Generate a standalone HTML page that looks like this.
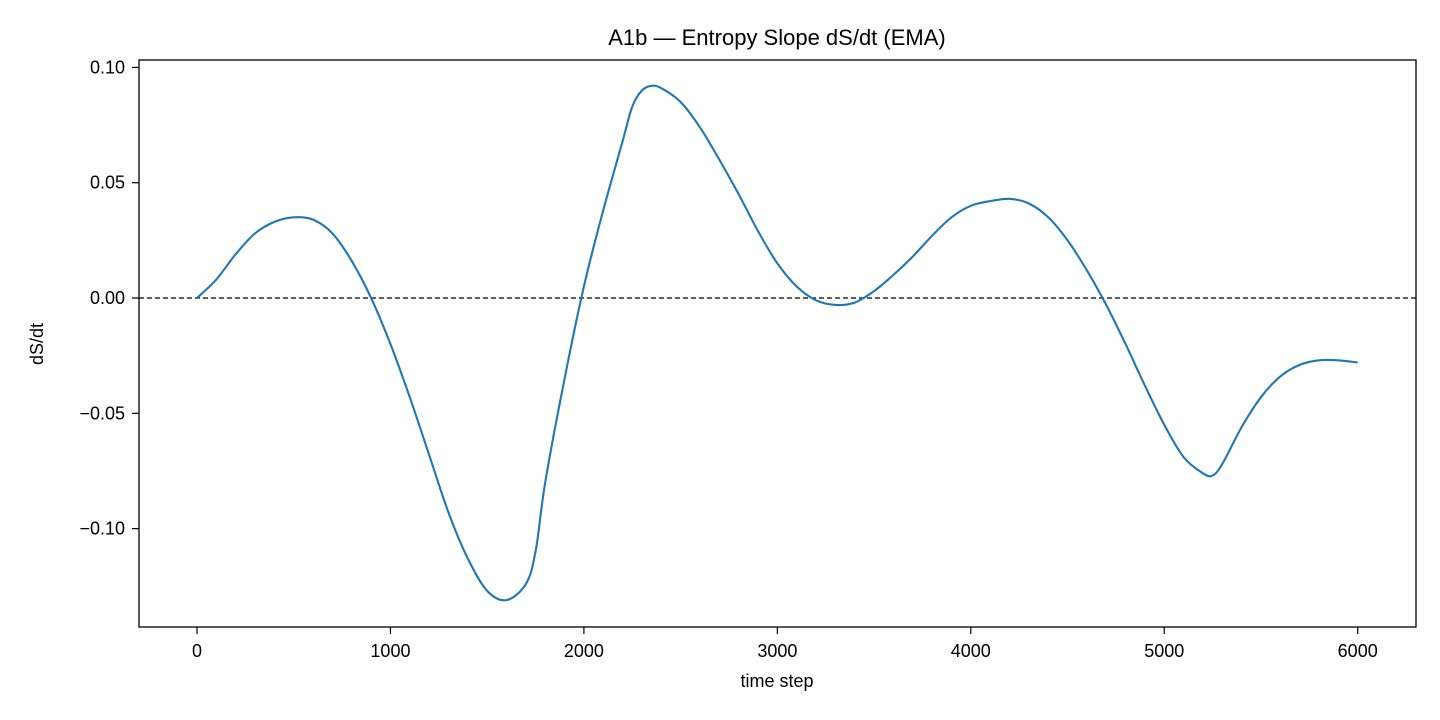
<!DOCTYPE html>
<html><head><meta charset="utf-8"><style>
html,body{margin:0;padding:0;background:#fff;}
svg{display:block;font-family:"Liberation Sans","DejaVu Sans",sans-serif;}
</style></head><body>
<svg id="chart" width="1440" height="720" viewBox="0 0 1440 720">
<rect x="0" y="0" width="1440" height="720" fill="#fff"/>
<text x="777" y="45" text-anchor="middle" font-size="22" fill="#000">A1b — Entropy Slope dS/dt (EMA)</text>
<g id="xticks"></g>
<g id="yticks"></g>
<line id="zero" stroke="#000" stroke-width="1.3" stroke-dasharray="5,3"/>
<path id="series" fill="none" stroke="#1f77b4" stroke-width="2.1" stroke-linejoin="round"/>
<rect x="139" y="60" width="1277" height="567" fill="none" stroke="#000" stroke-width="1.3"/>
<text x="777" y="687" text-anchor="middle" font-size="18">time step</text>
<text x="43" y="344" text-anchor="middle" font-size="18" transform="rotate(-90 43 344)">dS/dt</text>
</svg>
<script>
const steps=[0,100,200,300,400,500,600,700,800,900,1000,1100,1200,1300,1400,1500,1600,1700,1750,1800,1900,2000,2100,2200,2250,2300,2350,2400,2500,2600,2700,2800,2900,3000,3100,3200,3300,3400,3500,3600,3700,3800,3900,4000,4100,4200,4300,4400,4500,4600,4700,4800,4900,5000,5100,5200,5250,5300,5400,5500,5600,5700,5800,5900,6000];
const slope=[0,0.008,0.019,0.028,0.033,0.035,0.034,0.028,0.016,0,-0.02,-0.043,-0.068,-0.093,-0.113,-0.127,-0.131,-0.124,-0.11,-0.08,-0.035,0.005,0.038,0.068,0.083,0.09,0.092,0.091,0.085,0.074,0.06,0.045,0.029,0.015,0.005,-0.001,-0.003,-0.002,0.003,0.01,0.018,0.027,0.035,0.04,0.042,0.043,0.041,0.035,0.025,0.012,-0.003,-0.02,-0.038,-0.055,-0.069,-0.076,-0.077,-0.072,-0.056,-0.043,-0.034,-0.029,-0.027,-0.027,-0.028];
const xTickVals=[0,1000,2000,3000,4000,5000,6000];
const xTickLabels=["0","1000","2000","3000","4000","5000","6000"];
const yTickVals=[0.10,0.05,0,-0.05,-0.10];
const yTickLabels=["0.10","0.05","0.00","\u22120.05","\u22120.10"];
const X=v=>197+v*0.19345;
const Y=v=>298-v*2306;
const NS="http://www.w3.org/2000/svg";
const xg=document.getElementById('xticks'),yg=document.getElementById('yticks');
xTickVals.forEach((v,i)=>{
 const l=document.createElementNS(NS,'line');
 l.setAttribute('x1',X(v));l.setAttribute('x2',X(v));l.setAttribute('y1',627);l.setAttribute('y2',634);l.setAttribute('stroke','#000');l.setAttribute('stroke-width','1.2');
 
 
 xg.appendChild(l);
 const t=document.createElementNS(NS,'text');
 t.setAttribute('x',X(v));t.setAttribute('y',657);t.setAttribute('text-anchor','middle');t.setAttribute('font-size','18');
 t.textContent=xTickLabels[i];
 
 
 xg.appendChild(t);
});
yTickVals.forEach((v,i)=>{
 const l=document.createElementNS(NS,'line');
 l.setAttribute('x1',132);l.setAttribute('x2',139);l.setAttribute('y1',Y(v));l.setAttribute('y2',Y(v));l.setAttribute('stroke','#000');l.setAttribute('stroke-width','1.2');
 
 
 yg.appendChild(l);
 const t=document.createElementNS(NS,'text');
 t.setAttribute('x',125);t.setAttribute('y',Y(v)+6);t.setAttribute('text-anchor','end');t.setAttribute('font-size','18');
 t.textContent=yTickLabels[i];
 
 
 yg.appendChild(t);
});
const z=document.getElementById('zero');
z.setAttribute('x1',139);z.setAttribute('x2',1416);z.setAttribute('y1',Y(0));z.setAttribute('y2',Y(0));
const P=steps.map((s,i)=>[X(s),Y(slope[i])]);
let d='M'+P[0][0].toFixed(1)+','+P[0][1].toFixed(1);
for(let i=0;i<P.length-1;i++){
 const p0=P[Math.max(i-1,0)],p1=P[i],p2=P[i+1],p3=P[Math.min(i+2,P.length-1)];
 const c1=[p1[0]+(p2[0]-p0[0])/6,p1[1]+(p2[1]-p0[1])/6];
 const c2=[p2[0]-(p3[0]-p1[0])/6,p2[1]-(p3[1]-p1[1])/6];
 d+=' C'+c1[0].toFixed(1)+','+c1[1].toFixed(1)+' '+c2[0].toFixed(1)+','+c2[1].toFixed(1)+' '+p2[0].toFixed(1)+','+p2[1].toFixed(1);
}
document.getElementById('series').setAttribute('d',d);
</script>
</body></html>
